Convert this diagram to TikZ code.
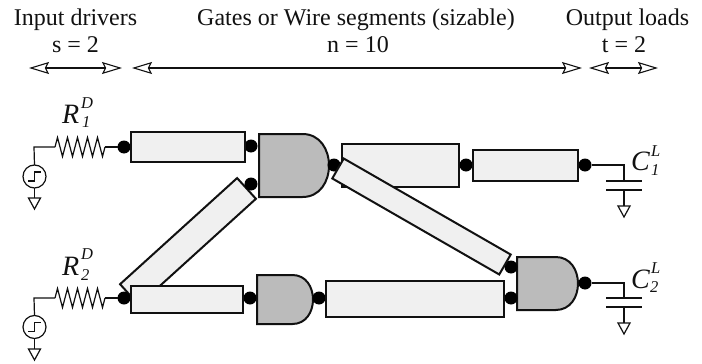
\documentclass[tikz,border=0pt]{standalone}
\usepackage{fontspec}
\setmainfont{Liberation Serif}
\usetikzlibrary{arrows.meta,decorations.pathmorphing}
\definecolor{boxfill}{HTML}{F0F0F0}
\definecolor{gatefill}{HTML}{BBBBBB}
\definecolor{inkc}{HTML}{111111}
\tikzset{
  x=1pt,y=-1pt,
  every node/.style={inner sep=0pt,outer sep=0pt},
  wbox/.style={draw=inkc,fill=boxfill,line width=2pt,rectangle,anchor=center},
  gatebody/.style={draw=inkc,fill=gatefill,line width=2pt,line join=miter},
  pin/.style={circle,fill=black,minimum size=13pt},
  wire/.style={draw=inkc,line width=1.2pt},
  span/.style={draw=inkc,line width=1.1pt,{Stealth[open,inset=3pt,length=20pt,width=12pt]}-{Stealth[open,inset=3pt,length=20pt,width=12pt]}},
  lbl/.style={font=\fontsize{24}{26}\selectfont,anchor=base,text=inkc},
  sym/.style={font=\fontsize{28}{30}\selectfont\itshape,anchor=base west,text=inkc},
  scr/.style={font=\fontsize{16.5}{18}\selectfont\itshape,anchor=base west,text=inkc},
  src/.style={circle,draw=inkc,line width=1.2pt,fill=white,minimum size=23pt},
  gnd/.style={draw=inkc,line width=1.2pt,fill=white,line join=miter},
  res/.style={wire,decorate,decoration={zigzag,segment length=10pt,amplitude=9.5pt}},
}
\newcommand{\gatepath}[5]{% name,x,ytop,ybot,xright
  \draw[gatebody] (#2,#3) -- ({#5-0.42*(#4-#3)},#3)
    .. controls ({#5-0.14*(#4-#3)},#3) and (#5,{#3+0.25*(#4-#3)}) .. (#5,{0.5*(#3+#4)})
    .. controls (#5,{#4-0.25*(#4-#3)}) and ({#5-0.14*(#4-#3)},#4) .. ({#5-0.42*(#4-#3)},#4)
    -- (#2,#4) -- cycle;
}
\newcommand{\groundat}[2]{\draw[gnd] (#1-6,#2) -- (#1+6,#2) -- (#1,#2+11) -- cycle;}
\begin{document}
\begin{tikzpicture}
\useasboundingbox (0,0) rectangle (702,364);
% header text
\node[lbl] (h1) at (75.5,25) {Input drivers};
\node[lbl] (h2) at (75.5,52) {s = 2};
\node[lbl] (h3) at (356,25) {Gates or Wire segments (sizable)};
\node[lbl] (h4) at (358,52) {n = 10};
\node[lbl] (h5) at (627.5,25) {Output loads};
\node[lbl] (h6) at (624,52) {t = 2};
\coordinate (a1) at (29,68); \coordinate (a2) at (122,68);
\coordinate (a3) at (132,68); \coordinate (a4) at (582,68);
\coordinate (a5) at (589,68); \coordinate (a6) at (658,68);
\draw[span] (a1) -- (a2);
\draw[span] (a3) -- (a4);
\draw[span] (a5) -- (a6);
% source / driver 1
\coordinate (c1) at (34,147); \coordinate (r1a) at (55,147); \coordinate (r1b) at (105,147);
\coordinate (c2) at (34,298); \coordinate (r2a) at (55,298); \coordinate (r2b) at (105,298);
\node[src] (s1) at (34.5,176.5) {};
\node[src] (s2) at (34.5,327) {};
\draw[wire] (s1.north) -- (c1) -- (r1a);
\draw[wire] (s2.north) -- (c2) -- (r2a);
\draw[res] (r1a) -- (r1b);
\draw[res] (r2a) -- (r2b);
\draw[wire] (28,181) -- (34.5,181) -- (34.5,172) -- (41,172);
\draw[wire] (28,331.5) -- (34.5,331.5) -- (34.5,322.5) -- (41,322.5);
\draw[wire] (s1.south) -- (34.5,198);
\draw[wire] (s2.south) -- (34.5,349);
\groundat{34.5}{198}
\groundat{34.5}{349}
\node[sym] (R1) at (62,123) {R};
\node[scr] (R1s) at (81,108) {D};
\node[scr] (R1b) at (82,127) {1};
\node[sym] (R2) at (62,275) {R};
\node[scr] (R2s) at (81,259) {D};
\node[scr] (R2b) at (81,280) {2};
% back boxes
\node[wbox,minimum width=158pt,minimum height=28pt,rotate=42.2] (d1) at (188,241.5) {};
\node[wbox,minimum width=117pt,minimum height=43pt] (b3) at (400.5,165.5) {};
% gates
\gatepath{g1}{259}{134}{197}{329}
\gatepath{g2}{257}{275}{324}{313}
\gatepath{g3}{517}{257}{310}{578}
% wiring dots
\node[pin] (p1) at (124,147) {};
\node[pin] (p2) at (251,146) {};
\node[pin] (p3) at (251,184) {};
\node[pin] (p4) at (334,165) {};
\node[pin] (p5) at (466,165) {};
\node[pin] (p6) at (585,165) {};
\node[pin] (p7) at (124,298) {};
\node[pin] (p8) at (250,298) {};
\node[pin] (p9) at (319,298) {};
\node[pin] (p10) at (511,298) {};
\node[pin] (p11) at (511,267) {};
\node[pin] (p12) at (585,283) {};
\draw[wire] (r1b) -- (p1);
\draw[wire] (r2b) -- (p7);
% front boxes
\node[wbox,minimum width=114pt,minimum height=30pt] (b1) at (188,147) {};
\node[wbox,minimum width=105pt,minimum height=31pt] (b4) at (525.5,165.5) {};
\node[wbox,minimum width=112pt,minimum height=27pt] (b2) at (187,299.5) {};
\node[wbox,minimum width=178pt,minimum height=36pt] (b5) at (415,299) {};
\node[wbox,minimum width=192.6pt,minimum height=23pt,rotate=-29.9] (d2) at (421.5,216.5) {};
% loads
\coordinate (l1) at (624,165); \coordinate (l2) at (624,181); \coordinate (l3) at (624,190); \coordinate (l4) at (624,206);
\coordinate (m1) at (624,283); \coordinate (m2) at (624,298); \coordinate (m3) at (624,307); \coordinate (m4) at (624,323);
\draw[wire] (p6) -- (l1) -- (l2);
\draw[wire] (l3) -- (l4);
\draw[wire] (p12) -- (m1) -- (m2);
\draw[wire] (m3) -- (m4);
\draw[wire] (606,181) -- (642,181); \draw[wire] (606,190) -- (642,190);
\draw[wire] (606,298) -- (642,298); \draw[wire] (606,307) -- (642,307);
\groundat{624}{206}
\groundat{624}{323}
\node[sym] (C1) at (631,170) {C};
\node[scr] (C1s) at (651,156) {L};
\node[scr] (C1b) at (651,175) {1};
\node[sym] (C2) at (631,288) {C};
\node[scr] (C2s) at (651,273) {L};
\node[scr] (C2b) at (650,292) {2};
\end{tikzpicture}
\end{document}
